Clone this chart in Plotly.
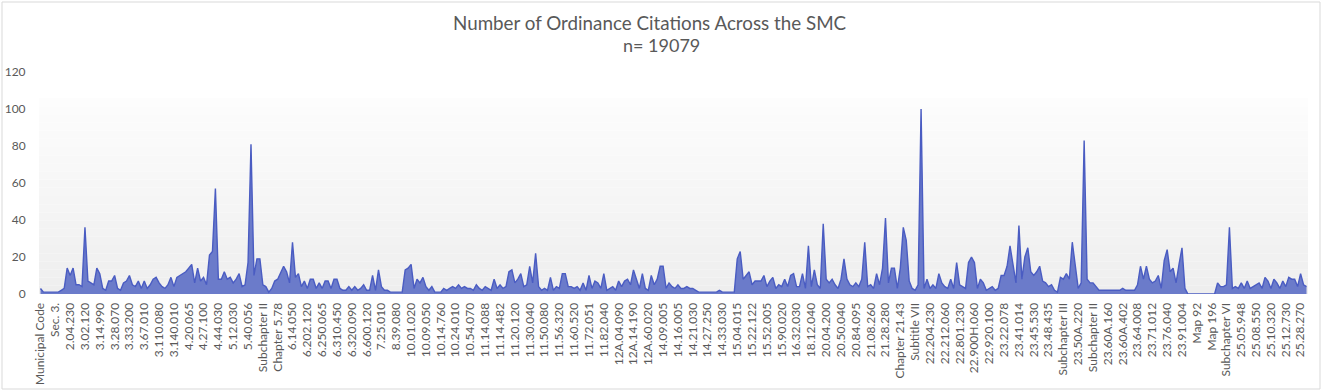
import plotly.graph_objects as go

# ---- data ----
tick_labels = ["Municipal Code","Sec. 3.","2.04.230","3.02.120","3.14.990","3.28.070","3.33.200","3.67.010",
    "3.110.080","3.140.010","4.20.065","4.27.100","4.44.030","5.12.030","5.40.056","Subchapter II",
    "Chapter 5.78","6.14.050","6.202.120","6.250.065","6.310.450","6.320.090","6.600.120","7.25.010",
    "8.39.080","10.01.020","10.09.050","10.14.760","10.24.010","10.54.070","11.14.088","11.14.482",
    "11.20.120","11.30.040","11.50.080","11.56.320","11.60.520","11.72.051","11.82.040","12A.04.090",
    "12A.14.190","12A.60.020","14.09.005","14.16.005","14.21.030","14.27.250","14.33.030","15.04.015",
    "15.22.122","15.52.005","15.90.020","16.32.030","18.12.040","20.04.200","20.50.040","20.84.095",
    "21.08.260","21.28.280","Chapter 21.43","Subtitle VII","22.204.230","22.212.060","22.801.230",
    "22.900H.060","22.920.100","23.22.078","23.41.014","23.45.530","23.48.435","Subchapter III",
    "23.50A.220","Subchapter II","23.60A.160","23.60A.402","23.64.008","23.71.012","23.76.040",
    "23.91.004","Map 92","Map 196","Subchapter VI","25.05.948","25.08.550","25.10.320","25.12.730",
    "25.28.270"]
label_every = 5

citations = [
    3,1,1,1,1,1,1,2,3,14,
    10,14,5,5,4,36,7,6,5,14,
    11,3,2,7,7,10,3,2,6,7,
    10,5,4,7,3,7,3,5,8,9,
    6,4,3,5,9,4,9,10,11,12,
    14,16,6,14,7,9,5,21,23,57,
    8,8,12,8,9,6,8,11,4,5,
    17,81,10,19,19,5,4,1,3,7,
    8,12,15,12,6,28,9,11,4,7,
    3,8,8,3,6,3,7,7,3,8,
    8,3,2,2,4,2,4,2,3,5,
    2,2,10,2,13,4,2,2,1,1,
    1,1,1,13,14,16,3,8,6,9,
    4,2,4,1,1,1,3,2,3,4,
    3,5,3,4,3,3,2,5,3,2,
    4,3,2,8,3,5,3,4,12,13,
    6,8,11,4,5,15,6,22,4,2,
    3,2,9,2,4,3,11,11,4,4,
    3,4,2,6,2,10,3,7,6,3,
    11,2,3,4,2,7,4,7,8,5,
    13,8,3,11,3,2,10,5,8,15,
    15,3,6,4,3,5,3,3,4,3,
    3,2,1,1,1,1,1,1,1,2,
    1,1,1,1,1,19,23,8,10,12,
    5,7,7,7,10,4,7,9,3,5,
    4,8,4,10,11,4,4,11,3,26,
    4,13,5,3,38,8,6,8,5,3,
    8,19,8,5,4,6,4,8,28,4,
    5,3,11,5,14,41,6,14,14,3,
    14,36,29,7,3,2,5,100,3,8,
    3,5,3,11,6,4,3,8,3,17,
    5,4,3,17,20,17,3,8,6,2,
    3,4,2,3,10,10,15,26,16,6,
    37,8,20,25,12,10,12,15,7,6,
    4,5,2,1,9,8,11,8,28,15,
    3,6,83,8,6,6,4,2,2,2,
    2,2,2,2,2,3,2,2,2,2,
    5,15,8,15,8,6,7,10,3,18,
    24,12,14,6,16,25,3,0,0,0,
    0,0,0,0,0,0,0,6,4,4,
    5,36,3,4,3,6,3,7,3,4,
    5,6,3,9,7,3,8,6,3,7,
    4,9,8,8,4,11,5,4,
]

title_line1 = "Number of Ordinance Citations Across the SMC"
title_line2 = "n= 19079"

x_idx = list(range(len(citations)))
tick_vals = [i * label_every for i in range(len(tick_labels))]

W, H = 1323, 391
ML, MR, MT, MB = 39, 15, 72, 97
PW, PH = W - ML - MR, H - MT - MB


def py(px):
    """pixel row -> paper y"""
    return (MT + PH - px) / PH


def px_(xpx):
    return (xpx - ML) / PW


fig = go.Figure()
fig.add_trace(go.Scatter(
    x=x_idx, y=citations, mode="lines",
    line=dict(color="#4a5cc2", width=1.4),
    fill="tozeroy", fillcolor="#6b7bca",
    hoverinfo="x+y", showlegend=False,
))

shapes = []
# gradient plot-area background (white at top -> light gray at bottom)
top_frac = py(98)
nb = 24
c0, c1 = 253, 238
for b in range(nb):
    y0 = top_frac * b / nb
    y1 = top_frac * (b + 1) / nb
    c = round(c1 + (c0 - c1) * (b + 0.5) / nb)
    shapes.append(dict(type="rect", xref="paper", yref="paper", x0=0, x1=1, y0=y0, y1=y1,
                       fillcolor=f"rgb({c},{c},{c})", line=dict(width=0), layer="below"))
# chart border
shapes.append(dict(type="rect", xref="paper", yref="paper",
                   x0=px_(2), x1=px_(W - 3), y0=py(H - 2), y1=py(2),
                   line=dict(color="#d9d9d9", width=1), fillcolor="rgba(0,0,0,0)", layer="below"))

annotations = [
    dict(text=title_line1, xref="paper", yref="paper", x=px_(650), y=py(22), xanchor="center",
         yanchor="middle", showarrow=False, font=dict(family="Lato", size=18.8, color="#595959")),
    dict(text=title_line2, xref="paper", yref="paper", x=px_(661), y=py(45), xanchor="center",
         yanchor="middle", showarrow=False, font=dict(family="Lato", size=18, color="#595959")),
]

fig.update_layout(
    width=W, height=H,
    margin=dict(l=ML, r=MR, t=MT, b=MB),
    paper_bgcolor="white", plot_bgcolor="rgba(0,0,0,0)",
    font=dict(family="Lato", color="#595959"),
    shapes=shapes, annotations=annotations,
    xaxis=dict(range=[-0.5, len(citations) - 0.5], tickmode="array", tickvals=tick_vals,
               ticktext=tick_labels, tickangle=-90, showgrid=False, zeroline=False,
               showline=False, ticks="outside", ticklen=3, tickcolor="rgba(0,0,0,0)",
               tickfont=dict(size=12, color="#595959"), automargin=False),
    yaxis=dict(range=[0, 120], dtick=20, showgrid=False, zeroline=False, showline=False,
               ticks="outside", ticklen=10, tickcolor="rgba(0,0,0,0)",
               tickfont=dict(size=12, color="#595959"), automargin=False),
)

fig.write_html("out.html", config={"displayModeBar": False},
               post_script="document.body.style.margin='0';")
